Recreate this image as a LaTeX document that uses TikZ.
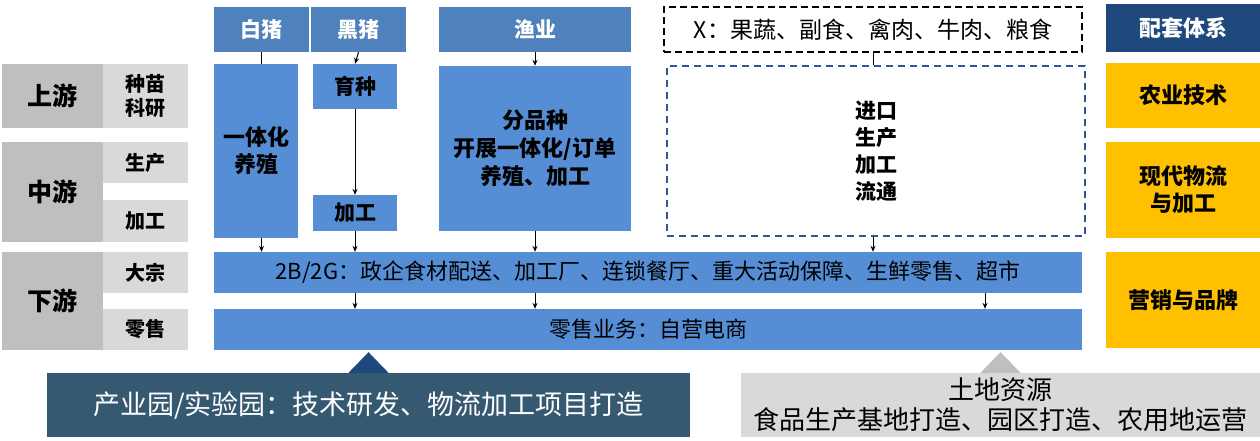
\documentclass[tikz,border=0pt]{standalone}
\usepackage{fontspec}
\setmainfont{Noto Sans CJK SC}
\usetikzlibrary{arrows.meta}
\definecolor{stagegrey}{HTML}{BFBFBF}
\definecolor{subgrey}{HTML}{D9D9D9}
\definecolor{hdrblue}{HTML}{4F81BD}
\definecolor{flowblue}{HTML}{558ED5}
\definecolor{navy}{HTML}{1F497D}
\definecolor{dashblue}{HTML}{2F5597}
\definecolor{gold}{HTML}{FFC000}
\definecolor{parkblue}{RGB}{53,89,112}
\begin{document}
\begin{tikzpicture}[x=1pt,y=-1pt,
    lab/.style={inner sep=0pt, align=center, font=\bfseries\fontsize{20}{24}\selectfont},
    stage/.style={lab, fill=stagegrey, minimum width=101pt, font=\bfseries\fontsize{25}{28}\selectfont},
    sub/.style={lab, fill=subgrey, minimum width=85pt},
    hdr/.style={lab, fill=hdrblue, text=white, minimum height=45pt, font=\bfseries\fontsize{21}{25}\selectfont},
    flow/.style={lab, fill=flowblue, font=\bfseries\fontsize{22}{27}\selectfont},
    bar/.style={lab, fill=flowblue, minimum width=868pt, minimum height=41pt, font=\fontsize{22}{26}\selectfont},
    side/.style={lab, fill=gold, minimum width=154pt, font=\bfseries\fontsize{22}{27}\selectfont},
    base/.style={lab, minimum height=64pt, font=\fontsize{26}{30}\selectfont},
    arr/.style={-{Stealth[length=6pt,width=5pt]}, line width=1pt},
    link/.style={line width=1pt}]
\useasboundingbox (0,0) rectangle (1260,440);

\node[stage, minimum height=64pt] (up) at (52.5,96) {上游};
\node[sub, minimum height=64pt] (upA) at (145.5,96) {种苗\\科研};
\node[stage, minimum height=100pt] (mid) at (52.5,192) {中游};
\node[sub, minimum height=41pt] (midA) at (145.5,162.5) {生产};
\node[sub, minimum height=42pt] (midB) at (145.5,221) {加工};
\node[stage, minimum height=98pt] (down) at (52.5,301) {下游};
\node[sub, minimum height=41pt] (downA) at (145.5,272.5) {大宗};
\node[sub, minimum height=41pt] (downB) at (145.5,329.5) {零售};

\node[hdr, minimum width=95pt] (white) at (261.5,29.5) {白猪};
\node[hdr, minimum width=95pt] (black) at (358.5,29.5) {黑猪};
\node[hdr, minimum width=192pt] (fish) at (535,29.5) {渔业};
\node[lab, draw=black, dash pattern=on 7pt off 4pt, line width=1.5pt, minimum width=418pt, minimum height=45pt,
      font=\fontsize{23}{26}\selectfont] (imp) at (873,29.5) {X：果蔬、副食、禽肉、牛肉、粮食};
\node[lab, fill=navy, text=white, minimum width=154pt, minimum height=48pt,
      font=\bfseries\fontsize{22}{26}\selectfont] (sys) at (1183,28) {配套体系};

\node[flow, minimum width=84pt, minimum height=174pt] (integ) at (256,151) {一体化\\养殖};
\node[flow, minimum width=84pt, minimum height=45pt, font=\bfseries\fontsize{21}{25}\selectfont] (breed) at (355,86.5) {育种};
\node[flow, minimum width=84pt, minimum height=36pt, font=\bfseries\fontsize{21}{25}\selectfont] (proc) at (355,213) {加工};
\node[flow, minimum width=192pt, minimum height=165pt, font=\bfseries\fontsize{22}{28}\selectfont] (fishbox) at (535,148.5) {分品种\\开展一体化/订单\\养殖、加工};
\node[lab, draw=dashblue, dash pattern=on 7pt off 5pt, line width=1.5pt, minimum width=418pt, minimum height=170pt,
      font=\bfseries\fontsize{21}{27}\selectfont] (dash) at (876,151) {进口\\生产\\加工\\流通};

\node[side, minimum height=65pt] (tech) at (1183,95.5) {农业技术};
\node[side, minimum height=96pt] (logi) at (1183,190) {现代物流\\与加工};
\node[side, minimum height=96pt] (mkt) at (1183,300) {营销与品牌};

\node[bar] (bar1) at (648,272.5) {2B/2G：政企食材配送、加工厂、连锁餐厅、重大活动保障、生鲜零售、超市};
\node[bar] (bar2) at (648,329.5) {零售业务：自营电商};

\node[base, fill=parkblue, text=white, minimum width=643pt, font=\fontsize{27}{30}\selectfont] (park) at (368.5,405) {产业园/实验园：技术研发、物流加工项目打造};
\node[base, fill=subgrey, minimum width=519pt] (land) at (1000.5,405) {土地资源\\食品生产基地打造、园区打造、农用地运营};

\coordinate (mall) at (985,0);
\coordinate (tipA) at (park.north |- bar2.south);
\coordinate (tipB) at (land.north |- bar2.south);

\draw[link] (white.south) -- (white.south |- integ.north);
\draw[arr] (black.south) -- (breed.north);
\draw[arr] (breed.south) -- (proc.north);
\draw[arr] (fish.south) -- (fishbox.north);
\draw[link] (imp.south) -- (imp.south |- dash.north);

\draw[arr] (integ.south -| white) -- (bar1.north -| white);
\draw[arr] (proc.south) -- (bar1.north -| proc);
\draw[arr] (fishbox.south) -- (bar1.north -| fishbox);
\draw[arr] (dash.south -| imp) -- (bar1.north -| imp);

\foreach \n in {proc,fishbox,mall}
    \draw[arr] (bar1.south -| \n) -- (bar2.north -| \n);

\fill[navy] ([xshift=-20pt]park.north) -- ([xshift=20pt]park.north) -- ([yshift=-2pt]tipA) -- cycle;
\fill[stagegrey] ([xshift=-20pt]land.north) -- ([xshift=20pt]land.north) -- ([yshift=-2pt]tipB) -- cycle;
\end{tikzpicture}
\end{document}
